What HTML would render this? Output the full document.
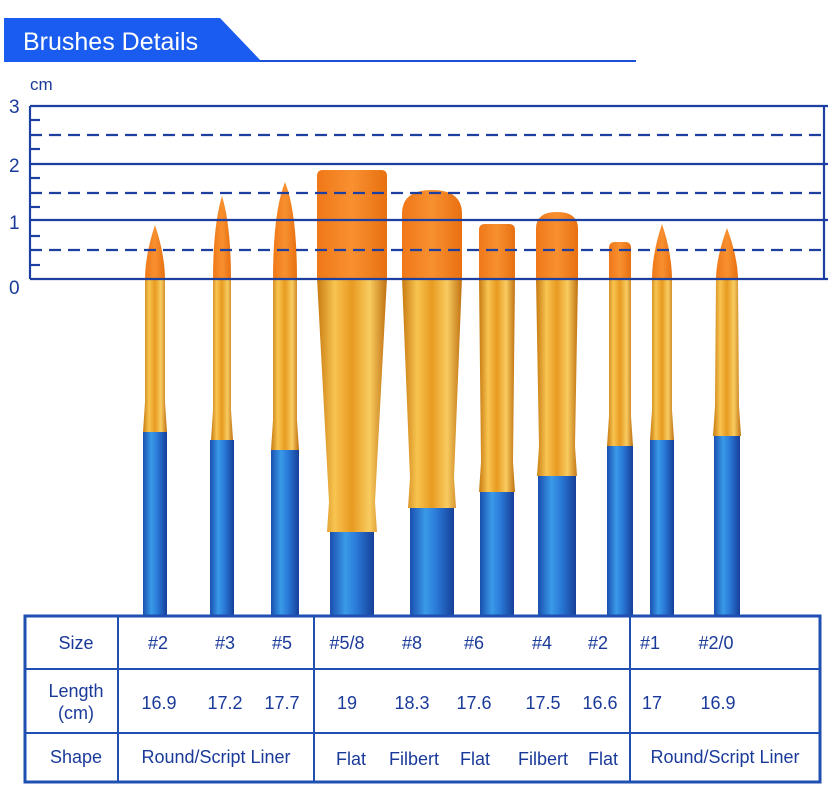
<!DOCTYPE html>
<html><head><meta charset="utf-8"><style>
html,body{margin:0;padding:0;background:#fff;}
svg{display:block;font-family:"Liberation Sans",Arial,sans-serif;}
</style></head><body>
<svg id="s" width="828" height="796" viewBox="0 0 828 796" xmlns="http://www.w3.org/2000/svg">
<defs>
<linearGradient id="fer" x1="0" x2="1" y1="0" y2="0">
<stop offset="0" stop-color="#c87a10"/><stop offset="0.25" stop-color="#f8c450"/><stop offset="0.5" stop-color="#e89a20"/><stop offset="0.75" stop-color="#f8cc60"/><stop offset="1" stop-color="#c07010"/></linearGradient>
<linearGradient id="han" x1="0" x2="1" y1="0" y2="0">
<stop offset="0" stop-color="#1a4fb0"/><stop offset="0.35" stop-color="#3a9ae8"/><stop offset="0.6" stop-color="#2a7ad8"/><stop offset="1" stop-color="#163f98"/></linearGradient>
<linearGradient id="bri" x1="0" x2="1" y1="0" y2="0">
<stop offset="0" stop-color="#f07818"/><stop offset="0.5" stop-color="#f89030"/><stop offset="1" stop-color="#e87010"/></linearGradient>
</defs>
<g id="brushes"></g>
<!-- header -->
<polygon points="4,18 220,18 262,62 4,62" fill="#1a5cf0"/>
<line x1="260" y1="61" x2="636" y2="61" stroke="#1a4fd8" stroke-width="2"/>
<text x="23" y="50" font-size="25" fill="#fff">Brushes Details</text>
<!-- ruler -->
<text x="30" y="90" font-size="17" fill="#1a3a9a">cm</text>
<g font-size="19" fill="#1a3a9a">
<text x="9" y="113">3</text><text x="9" y="172">2</text><text x="9" y="229">1</text><text x="9" y="294">0</text></g>
<g stroke="#1c3fa0" stroke-width="2.2" fill="none">
<line x1="30" y1="106" x2="828" y2="106"/>
<line x1="30" y1="164" x2="828" y2="164"/>
<line x1="30" y1="220" x2="828" y2="220"/>
<line x1="30" y1="279" x2="828" y2="279"/>
<line x1="30" y1="106" x2="30" y2="279"/>
<line x1="824" y1="106" x2="824" y2="279"/>
<g stroke-dasharray="12,7">
<line x1="30" y1="135" x2="828" y2="135"/>
<line x1="30" y1="193" x2="828" y2="193"/>
<line x1="30" y1="250" x2="828" y2="250"/></g>
<line x1="30" y1="120" x2="40" y2="120"/><line x1="30" y1="149" x2="40" y2="149"/>
<line x1="30" y1="178" x2="40" y2="178"/><line x1="30" y1="207" x2="40" y2="207"/>
<line x1="30" y1="236" x2="40" y2="236"/><line x1="30" y1="265" x2="40" y2="265"/>
</g>
<!-- table -->
<rect x="25" y="616" width="795" height="166" fill="#fff" stroke="#1f4fb0" stroke-width="3"/>
<g stroke="#1f4fb0" stroke-width="2">
<line x1="25" y1="669" x2="820" y2="669"/><line x1="25" y1="733" x2="820" y2="733"/>
<line x1="118" y1="616" x2="118" y2="782"/><line x1="314" y1="616" x2="314" y2="782"/><line x1="630" y1="616" x2="630" y2="782"/>
</g>
<g font-size="18" fill="#1a3a9a" text-anchor="middle">
<text x="76" y="649">Size</text>
<text x="158" y="649">#2</text><text x="225" y="649">#3</text><text x="282" y="649">#5</text>
<text x="347" y="649">#5/8</text><text x="412" y="649">#8</text><text x="474" y="649">#6</text>
<text x="542" y="649">#4</text><text x="598" y="649">#2</text><text x="650" y="649">#1</text><text x="716" y="649">#2/0</text>
<text x="76" y="697">Length</text><text x="76" y="719">(cm)</text>
<text x="159" y="709">16.9</text><text x="225" y="709">17.2</text><text x="282" y="709">17.7</text>
<text x="347" y="709">19</text><text x="412" y="709">18.3</text><text x="474" y="709">17.6</text>
<text x="543" y="709">17.5</text><text x="600" y="709">16.6</text><text x="652" y="709">17</text><text x="718" y="709">16.9</text>
<text x="76" y="763">Shape</text>
<text x="216" y="763">Round/Script Liner</text>
<text x="351" y="765">Flat</text><text x="414" y="765">Filbert</text><text x="475" y="765">Flat</text>
<text x="543" y="765">Filbert</text><text x="603" y="765">Flat</text>
<text x="725" y="763">Round/Script Liner</text>
</g>
</svg>
<script>
var B=[
[155,225,20,432,20,24,'r'],[222,196,18,440,18,24,'r'],[285,182,24,450,24,28,'r'],
[352,170,70,532,46,44,'f'],[432,190,60,508,44,44,'b'],[497,224,36,492,32,34,'f'],
[557,212,42,476,36,38,'b'],[620,242,22,446,22,26,'f'],[662,224,20,440,20,24,'r'],[727,228,22,436,24,26,'r']];
var g=document.getElementById('brushes'),h='',ft=278;
B.forEach(function(b){
var c=b[0],t=b[1],w=b[2],fb=b[3],fw=b[4],hw=b[5],ty=b[6];
h+='<rect x="'+(c-hw/2)+'" y="'+fb+'" width="'+hw+'" height="'+(616-fb)+'" fill="url(#han)"/>';
h+='<path d="M'+(c-w/2)+','+ft+' L'+(c-fw/2)+','+(fb-30)+' L'+(c-fw/2-2)+','+fb+' L'+(c+fw/2+2)+','+fb+' L'+(c+fw/2)+','+(fb-30)+' L'+(c+w/2)+','+ft+' Z" fill="url(#fer)"/>';
var d;
if(ty=='r'){d='M'+(c-w/2)+','+(ft+2)+' Q'+(c-w/2)+','+(t+30)+' '+c+','+t+' Q'+(c+w/2)+','+(t+30)+' '+(c+w/2)+','+(ft+2)+' Z';}
else if(ty=='f'){d='M'+(c-w/2)+','+(ft+2)+' L'+(c-w/2)+','+(t+6)+' Q'+(c-w/2)+','+t+' '+(c-w/2+6)+','+t+' L'+(c+w/2-6)+','+t+' Q'+(c+w/2)+','+t+' '+(c+w/2)+','+(t+6)+' L'+(c+w/2)+','+(ft+2)+' Z';}
else{d='M'+(c-w/2)+','+(ft+2)+' L'+(c-w/2)+','+(t+w*0.4)+' Q'+(c-w/2)+','+t+' '+c+','+t+' Q'+(c+w/2)+','+t+' '+(c+w/2)+','+(t+w*0.4)+' L'+(c+w/2)+','+(ft+2)+' Z';}
h+='<path d="'+d+'" fill="url(#bri)"/>';
});
g.innerHTML=h;
</script>
</body></html>
